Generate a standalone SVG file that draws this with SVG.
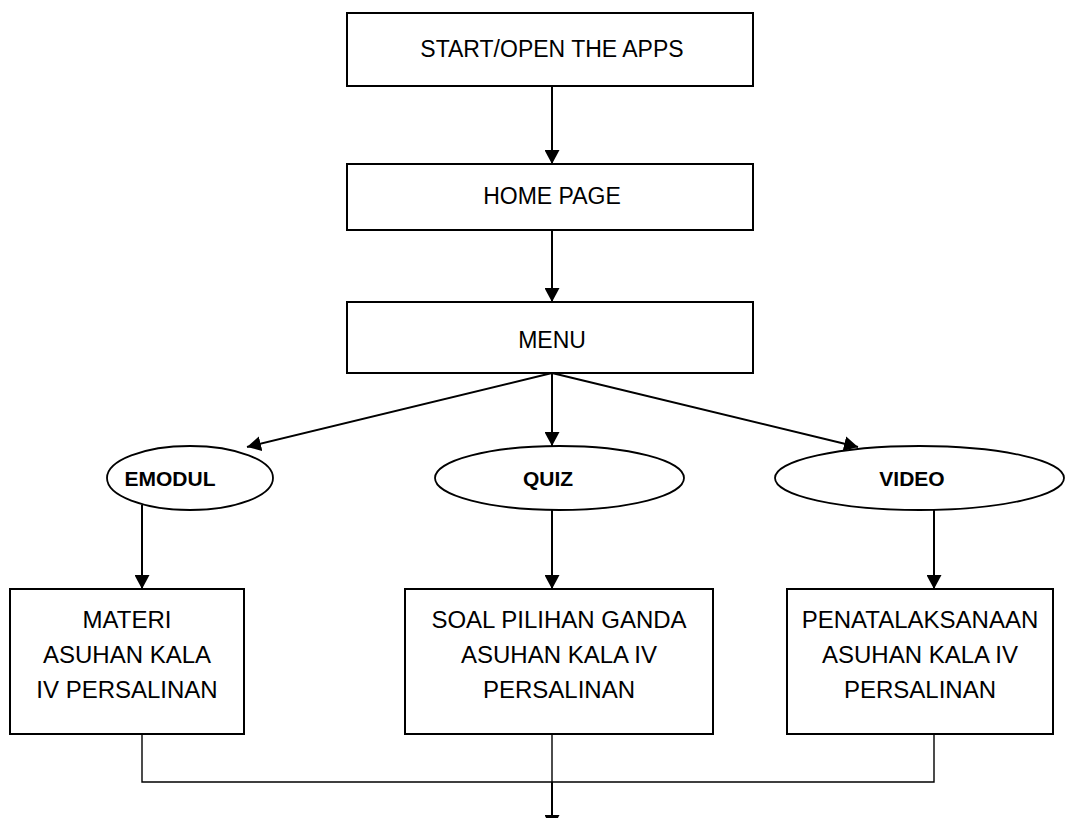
<svg xmlns="http://www.w3.org/2000/svg" width="1083" height="818" viewBox="0 0 1083 818">
<style>
.box{fill:#fff;stroke:#000;stroke-width:2}
.ell{fill:#fff;stroke:#000;stroke-width:1.8}
.t{font-family:"Liberation Sans",Arial,sans-serif;font-size:23px;fill:#000;text-anchor:middle}
.s{font-size:24px}
.b{font-weight:bold;font-size:21px}
.c{fill:none;stroke:#000;stroke-width:2}
.thin{fill:none;stroke:#000;stroke-width:1.4}
</style>
<defs>
<marker id="ah" viewBox="0 0 14 15" refX="14" refY="7.5" markerWidth="14" markerHeight="15" markerUnits="userSpaceOnUse" orient="auto">
<path d="M0,0 L14,7.5 L0,15 Z" fill="#000"/>
</marker>
</defs>
<rect width="1083" height="818" fill="#fff"/>
<g id="connectors">
<line class="c" x1="552" y1="86" x2="552" y2="164" marker-end="url(#ah)"/>
<line class="c" x1="552" y1="230" x2="552" y2="302" marker-end="url(#ah)"/>
<line class="c" x1="552" y1="373" x2="247" y2="447" marker-end="url(#ah)"/>
<line class="c" x1="552" y1="373" x2="552" y2="446" marker-end="url(#ah)"/>
<line class="c" x1="552" y1="373" x2="858" y2="447" marker-end="url(#ah)"/>
<line class="c" x1="142" y1="505" x2="142" y2="589" marker-end="url(#ah)"/>
<line class="c" x1="552" y1="510" x2="552" y2="589" marker-end="url(#ah)"/>
<line class="c" x1="934" y1="510" x2="934" y2="589" marker-end="url(#ah)"/>
<polyline class="thin" points="142,734 142,782 934,782 934,734"/>
<line class="thin" x1="552" y1="734" x2="552" y2="782"/>
<line class="c" x1="552" y1="782" x2="552" y2="829" marker-end="url(#ah)"/>
</g>
<g id="start">
<rect class="box" x="347" y="13" width="406" height="73"/>
<text class="t" x="552" y="57">START/OPEN THE APPS</text>
</g>
<g id="home">
<rect class="box" x="347" y="164" width="406" height="66"/>
<text class="t" x="552" y="204">HOME PAGE</text>
</g>
<g id="menu">
<rect class="box" x="347" y="302" width="406" height="71"/>
<text class="t" x="552" y="348">MENU</text>
</g>
<g id="emodul">
<ellipse class="ell" cx="190" cy="478" rx="83" ry="32"/>
<text class="t b" x="170" y="486">EMODUL</text>
</g>
<g id="quiz">
<ellipse class="ell" cx="559.5" cy="478" rx="124.5" ry="32"/>
<text class="t b" x="548" y="486">QUIZ</text>
</g>
<g id="video">
<ellipse class="ell" cx="919.5" cy="478" rx="144.5" ry="32"/>
<text class="t b" x="912" y="486">VIDEO</text>
</g>
<g id="materi">
<rect class="box" x="10" y="589" width="234" height="145"/>
<text class="t s" x="127" y="628">MATERI</text>
<text class="t s" x="127" y="663">ASUHAN KALA</text>
<text class="t s" x="127" y="698">IV PERSALINAN</text>
</g>
<g id="soal">
<rect class="box" x="405" y="589" width="308" height="145"/>
<text class="t s" x="559" y="628">SOAL PILIHAN GANDA</text>
<text class="t s" x="559" y="663">ASUHAN KALA IV</text>
<text class="t s" x="559" y="698">PERSALINAN</text>
</g>
<g id="penata">
<rect class="box" x="787" y="589" width="266" height="145"/>
<text class="t s" x="920" y="628">PENATALAKSANAAN</text>
<text class="t s" x="920" y="663">ASUHAN KALA IV</text>
<text class="t s" x="920" y="698">PERSALINAN</text>
</g>
</svg>
